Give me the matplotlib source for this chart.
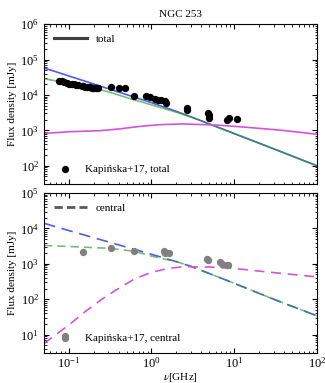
import matplotlib
matplotlib.use("Agg")
import matplotlib.pyplot as plt

plt.rcParams['font.family'] = ['Liberation Serif', 'DejaVu Serif']
plt.rcParams['mathtext.fontset'] = 'stix'
plt.rcParams['font.size'] = 8

# model curves, frequency in GHz, flux density in mJy
# top panel (total)
tot_sync_f = [0.05, 0.1, 0.3, 1, 2, 3, 10, 30, 100]
tot_sync_S = [58100, 34400, 15000, 6050, 3430, 2400, 810, 300, 100]
tot_abs_f = [0.05, 0.1, 0.2, 0.3, 0.6, 1, 2, 3, 10, 30, 100]
tot_abs_S = [28800, 21400, 15700, 12200, 7400, 5250, 3240, 2400, 810, 300, 100]
tot_ff_f = [0.05, 0.1, 0.24, 0.41, 0.72, 1.25, 2.37, 6.07, 15.2, 37.8, 100]
tot_ff_S = [813, 912, 977, 1096, 1288, 1445, 1514, 1413, 1202, 1000, 776]

# bottom panel (central)
cen_sync_f = [0.05, 0.1, 0.3, 1, 2, 3, 10, 30, 100]
cen_sync_S = [14000, 8710, 4170, 1860, 1150, 850, 282, 100, 34]
cen_abs_f = [0.05, 0.1, 0.3, 0.6, 1, 1.6, 2, 3, 10, 30, 100]
cen_abs_S = [3310, 3090, 2750, 2290, 1660, 1290, 1150, 850, 282, 100, 34]
cen_ff_f = [0.05, 0.1, 0.158, 0.251, 0.398, 0.631, 1, 1.585, 2.512, 5.01, 10, 25.1, 100]
cen_ff_S = [5.6, 18.6, 44.7, 100, 200, 380, 575, 741, 832, 813, 741, 589, 427]

# Kapinska+17 measurements
k_tot_f = [0.076, 0.082, 0.088, 0.095, 0.1, 0.108, 0.115, 0.122, 0.13, 0.143, 0.15,
           0.158, 0.166, 0.174, 0.181, 0.189, 0.197, 0.204, 0.212, 0.22, 0.227,
           0.327, 0.404, 0.473, 0.612, 0.847, 0.947, 1.09, 1.19, 1.31, 1.44, 1.48,
           2.67, 2.69, 4.77, 4.91, 5.0, 8.3, 8.7, 10.7]
k_tot_S = [25500, 24000, 22800, 21800, 21000, 20400, 19800, 19200, 18700, 18300, 17600,
           17200, 16900, 16600, 16300, 16100, 15900, 15700, 15600, 15500, 15400,
           17000, 15900, 15500, 9500, 9100, 8700, 7500, 7100, 7000, 6700, 6000,
           4370, 3670, 3160, 2710, 2290, 1920, 2190, 2050]
k_cen_f = [0.0908, 0.1486, 0.327, 0.611, 1.41, 1.47, 1.65, 4.64, 4.86, 6.79, 7.18, 8.13, 8.47]
k_cen_S = [9.1, 2220, 2770, 2370, 2370, 2080, 2000, 1380, 1270, 1120, 1000, 940, 900]

c_blue = '#4f5cf0'
c_green = '#2e9a2e'
c_mag = '#d752dc'

fig, (ax1, ax2) = plt.subplots(2, 1, sharex=True, figsize=(3.25, 3.83), dpi=100)
fig.subplots_adjust(left=0.135, right=0.975, top=0.937, bottom=0.078, hspace=0.055)

ax1.plot(tot_sync_f, tot_sync_S, color=c_blue, lw=1.2)
ax1.plot(tot_abs_f, tot_abs_S, color=c_green, lw=1.2, alpha=0.65)
ax1.plot(tot_ff_f, tot_ff_S, color=c_mag, lw=1.2)
l1, = ax1.plot([], [], color='0.25', lw=2.2, label='total')
p1 = ax1.scatter(k_tot_f, k_tot_S, s=18, color='black', zorder=5, label='Kapińska+17, total')
leg1 = ax1.legend(handles=[l1], loc='upper left', frameon=False, handlelength=3)
ax1.add_artist(leg1)
ax1.legend(handles=[p1], loc='lower left', frameon=False, scatterpoints=1)

ax2.plot(cen_sync_f, cen_sync_S, color=c_blue, lw=1.2, dashes=(7, 4))
ax2.plot(cen_abs_f, cen_abs_S, color=c_green, lw=1.2, alpha=0.65, dashes=(5, 3))
ax2.plot(cen_ff_f, cen_ff_S, color=c_mag, lw=1.2, dashes=(6, 4))
l2, = ax2.plot([], [], color='0.35', lw=2, dashes=(3, 1.5), label='central')
p2 = ax2.scatter(k_cen_f, k_cen_S, s=18, color='0.5', zorder=5, label='Kapińska+17, central')
leg2 = ax2.legend(handles=[l2], loc='upper left', frameon=False, handlelength=3)
ax2.add_artist(leg2)
ax2.legend(handles=[p2], loc='lower left', frameon=False, scatterpoints=1)

for ax in (ax1, ax2):
    ax.set_xscale('log')
    ax.set_yscale('log')
    ax.set_xlim(0.05, 100)
    ax.set_ylabel('Flux density [mJy]', labelpad=2)
    ax.tick_params(which='both', direction='in', top=True, right=True, labelsize=9)
    ax.tick_params(which='major', length=3.5)
    ax.tick_params(which='minor', length=1.8)
    ax.tick_params(axis='x', pad=2)

ax1.set_ylim(30, 1e6)
ax2.set_ylim(3, 1e5)
ax1.set_title('NGC 253', fontsize=8, pad=5)
ax2.set_xlabel(r'$\nu$[GHz]', labelpad=0)

plt.savefig('out.png', dpi=100)
